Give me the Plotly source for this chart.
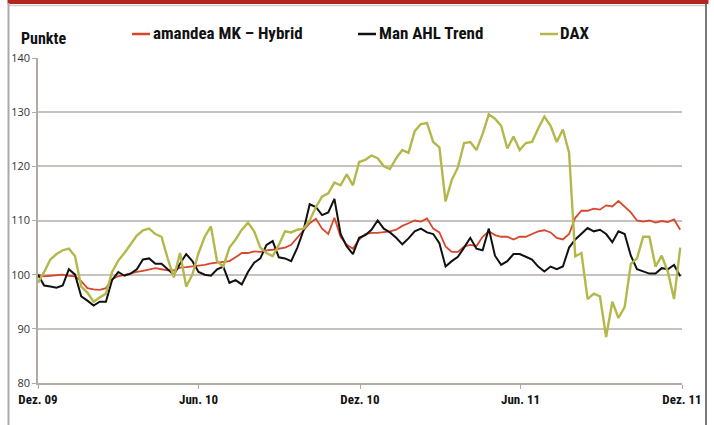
import pandas as pd
import plotly.graph_objects as go

# Weekly observations from 1 Dec 2009
start_date = "2009-12-01"
n_weeks = 105
dates = pd.date_range(start_date, periods=n_weeks, freq="7D")

amandea = [
    100, 99.7, 99.8, 99.9, 100, 99.8, 99.7, 98.8, 97.5, 97.3,
    97.2, 97.5, 99.2, 99.7, 100, 100.3, 100.5, 100.7, 101, 101.2,
    101, 100.8, 100.8, 101.3, 101.4, 101.5, 101.6, 101.8, 102.1, 102.2,
    102.3, 102.5, 103.2, 104, 104, 104.3, 104.2, 104.5, 104.6, 104.8,
    105, 105.5, 106.8, 108, 109.5, 110.3, 108.5, 107.5, 110.5, 107,
    105.5, 104.8, 106.5, 107.5, 107.7, 107.7, 107.8, 108, 108.3, 109,
    109.5, 110, 109.8, 110.4, 108.5, 107.8, 105.2, 104.2, 104.2, 105.2,
    105.5, 105.3, 107, 108, 107.3, 107, 107, 106.5, 107, 107,
    107.5, 108, 108.2, 107.8, 106.8, 106.5, 107.5, 110.5, 111.8, 111.8,
    112.2, 112, 112.8, 112.6, 113.6, 112.6, 111.5, 110, 109.8, 110,
    109.6, 109.9, 109.7, 110.2, 108.3,
]

man_ahl = [
    100, 98, 97.8, 97.6, 98, 101, 100, 96, 95.2, 94.3,
    95, 95, 99, 100.5, 99.8, 100.2, 101, 102.8, 103, 102,
    102, 101, 100, 102, 103.8, 102.5, 100.5, 100, 99.8, 101,
    101.5, 98.5, 99, 98.2, 100.5, 102.2, 103, 105.5, 106.2, 103.2,
    103, 102.5, 105, 108.2, 113, 112.5, 111, 111.5, 114, 107.5,
    105.2, 103.8, 106.8, 107.3, 108.3, 110, 108.5, 107.8, 106.8, 105.6,
    106.7, 108, 108.5, 107.8, 107.5, 105.8, 101.5, 102.5, 103.3, 105,
    106.8, 104.8, 104.5, 108.5, 103.5, 101.8, 102.5, 103.8, 103.8, 103.3,
    102.8, 101.5, 100.6, 101.5, 101, 101.5, 105, 106.5, 107.5, 108.6,
    108, 108.3, 107.5, 106, 108, 107.5, 103.5, 101, 100.6, 100.2,
    100.2, 101.2, 101, 101.8, 99.7,
]

dax = [
    98.5, 100.5, 102.8, 103.8, 104.5, 104.8, 103.4, 97.8, 96.7, 95,
    95.8, 96.5, 100.5, 102.6, 104, 105.5, 107.2, 108.2, 108.5, 107.5,
    107, 103, 99.5, 104, 97.8, 100, 104, 107, 108.9, 102.5,
    101.5, 105, 106.5, 108.3, 109.6, 108, 105, 104, 103.4, 105.5,
    108, 107.8, 108.3, 108.5, 110, 112.5, 114.4, 115, 117, 116.5,
    118.5, 116.5, 120.8, 121.2, 122, 121.5, 120, 119.5, 121.5, 123,
    122.5, 126.5, 127.8, 128, 124.5, 123.5, 113.5, 117.5, 119.8, 124.3,
    124.5, 123, 126, 129.6, 128.8, 127.5, 123.3, 125.5, 123, 124.3,
    124.5, 127, 129.2, 127.5, 124.5, 126.8, 122.5, 103.4, 104, 95.5,
    96.5, 96, 88.5, 95, 92, 94, 102, 103, 107, 107,
    101.5, 103.5, 100.5, 95.5, 105,
]

series_names = ["amandea MK – Hybrid", "Man AHL Trend", "DAX"]
series_colors = ["#d8472b", "#111111", "#b4b84b"]

tick_dates = ["2009-12-01", "2010-06-01", "2010-12-01", "2011-06-01", "2011-12-01"]
tick_labels = ["Dez. 09", "Jun. 10", "Dez. 10", "Jun. 11", "Dez. 11"]
y_ticks = [80, 90, 100, 110, 120, 130, 140]

# ---- layout geometry (pixels) ----
W_FIG, H_FIG = 714, 425
L, R, T, B = 38, 32, 58, 42
PW, PH = W_FIG - L - R, H_FIG - T - B


def px(x):
    return (x - L) / PW


def py(y):
    return 1 - (y - T) / PH


BOLD = "Liberation Sans Narrow, Roboto Condensed, DejaVu Sans Condensed, Arial Narrow, sans-serif"

fig = go.Figure()
for vals, name, col, w in zip([amandea, man_ahl, dax], series_names, series_colors, [1.8, 2.0, 2.4]):
    fig.add_trace(go.Scatter(x=dates, y=vals, mode="lines", name=name,
                             line=dict(color=col, width=w), showlegend=False))

grid_col = "#c9c1bd"
axis_col = "#b3aaa6"

fig.update_layout(
    width=W_FIG, height=H_FIG,
    margin=dict(l=L, r=R, t=T, b=B, autoexpand=False),
    paper_bgcolor="white", plot_bgcolor="white",
    xaxis=dict(
        type="date", range=["2009-12-01", "2011-12-01"],
        tickvals=tick_dates, ticktext=tick_labels,
        showgrid=False, zeroline=False,
        showline=True, linecolor=axis_col, linewidth=1.5,
        ticks="outside", ticklen=4, tickcolor=axis_col, tickwidth=1,
        tickfont=dict(family=BOLD, size=13, color="#111", weight="bold"),
        tickangle=0,
    ),
    yaxis=dict(
        range=[80, 140], tickvals=y_ticks,
        showgrid=True, gridcolor=grid_col, gridwidth=1.5,
        zeroline=False,
        showline=True, linecolor=axis_col, linewidth=1.5,
        ticks="outside", ticklen=4, tickcolor=axis_col, tickwidth=1,
        tickfont=dict(family="Open Sans, Noto Sans, sans-serif", size=11, color="#333"),
    ),
)

shapes = [
    # top red band and grey rule under it
    dict(type="rect", xref="paper", yref="paper", x0=px(8), x1=px(708), y0=py(0), y1=py(3.5),
         fillcolor="#b3261e", line=dict(color="#b3261e", width=1), layer="above"),
    dict(type="line", xref="paper", yref="paper", x0=px(8), x1=px(706), y0=py(5.5), y1=py(5.5),
         line=dict(color="#d0d0d0", width=1.5)),
    # left / right frame
    dict(type="line", xref="paper", yref="paper", x0=px(8.5), x1=px(8.5), y0=py(3), y1=py(425),
         line=dict(color="#a9a9a9", width=2)),
    dict(type="line", xref="paper", yref="paper", x0=px(706), x1=px(706), y0=py(4), y1=py(425),
         line=dict(color="#7a7a7a", width=2)),
]

annotations = [
    dict(text="Punkte", xref="paper", yref="paper", x=px(19), y=py(39), xanchor="left", yanchor="middle",
         showarrow=False, font=dict(family=BOLD, size=16, color="#111", weight="bold")),
]

legend_pos = [(132, 151), (358, 377), (540, 558)]
for (sx, tx), name, col in zip(legend_pos, series_names, series_colors):
    shapes.append(dict(type="line", xref="paper", yref="paper", x0=px(sx), x1=px(sx + 18),
                       y0=py(34), y1=py(34), line=dict(color=col, width=2.5)))
    annotations.append(dict(text=name, xref="paper", yref="paper", x=px(tx), y=py(33),
                            xanchor="left", yanchor="middle", showarrow=False,
                            font=dict(family=BOLD, size=17, color="#111", weight="bold")))

fig.update_layout(shapes=shapes, annotations=annotations)
fig.write_html(
    "out.html",
    config={"displayModeBar": False},
    post_script="document.body.style.margin='0';document.body.style.overflow='hidden';",
)
